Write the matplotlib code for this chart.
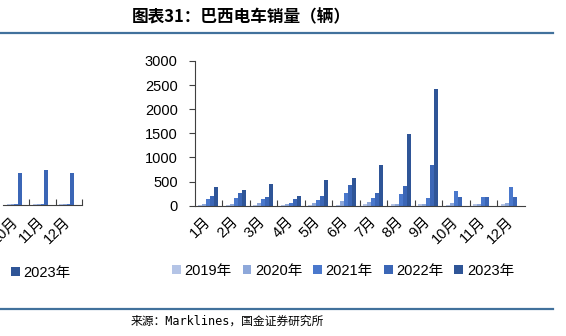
import numpy as np
import matplotlib
matplotlib.use("Agg")
import matplotlib.pyplot as plt
from matplotlib.lines import Line2D

plt.rcParams['font.family'] = ['Liberation Sans', 'Noto Sans CJK SC']

months = ['1月', '2月', '3月', '4月', '5月', '6月', '7月', '8月', '9月', '10月', '11月', '12月']
years = ['2019年', '2020年', '2021年', '2022年', '2023年']
colors = ['#b4c4e6', '#8ea8da', '#4a78cc', '#3b66b6', '#2f5597']

# 巴西电车销量（辆）
sales_2019 = [5, 5, 10, 10, 20, 10, 28, 25, 25, 10, 25, 28]
sales_2020 = [35, 35, 55, 28, 62, 104, 76, 25, 25, 55, 25, 55]
sales_2021 = [132, 153, 132, 62, 111, 257, 153, 235, 159, 304, 180, 380]
sales_2022 = [200, 257, 180, 132, 208, 437, 257, 408, 836, 180, 180, 180]
sales_2023 = [380, 333, 458, 208, 534, 583, 836, 1486, 2412, np.nan, np.nan, np.nan]

# neighbouring chart (only Oct-Dec visible at the left edge)
left_months = ['10月', '11月', '12月']
left_2019 = [20, 20, 20]
left_2020 = [25, 25, 25]
left_2021 = [30, 30, 30]
left_2022 = [670, 725, 670]
left_2023 = [np.nan, np.nan, np.nan]

W, H = 566, 336
fig = plt.figure(figsize=(W / 100, H / 100), dpi=100)


def px_box(x0, y_top, x1, y_bot):
    return [x0 / W, 1 - y_bot / H, (x1 - x0) / W, (y_bot - y_top) / H]


def style_axes(ax, labels, n):
    ax.set_xlim(-0.5, n - 0.5)
    ax.set_ylim(0, 3000)
    for s in ['top', 'right']:
        ax.spines[s].set_visible(False)
    ax.spines['bottom'].set_color('#404040')
    ax.spines['left'].set_color('#404040')
    ax.set_xticks(np.arange(n - 1) + 0.5)
    ax.set_xticklabels([])
    ax.tick_params(axis='x', which='major', direction='in', length=4, color='#404040')
    ax.set_xticks(np.arange(n), minor=True)
    ax.set_xticklabels(labels, minor=True, rotation=45, ha='right',
                       rotation_mode='anchor', va='center', fontsize=10.5)
    ax.tick_params(axis='x', which='minor', length=0, pad=10)
    ax.set_yticks(np.arange(0, 3001, 500))
    ax.tick_params(axis='y', direction='out', length=4, pad=8, labelsize=10.5,
                   color='#404040')


def draw_bars(ax, series):
    x = np.arange(len(series[0]))
    w = 0.145
    bars = []
    for k, vals in enumerate(series):
        bars.append(ax.bar(x + (k - 2) * w, vals, w, color=colors[k]))
    return bars


# main chart
ax = fig.add_axes(px_box(194.5, 61, 524.5, 205.7))
bars = draw_bars(ax, [sales_2019, sales_2020, sales_2021, sales_2022, sales_2023])
style_axes(ax, months, 12)
fig.legend(bars, years, ncol=5, loc='center', bbox_to_anchor=(343 / W, 1 - 271 / H),
           frameon=False, fontsize=10.5, handlelength=0.6, handleheight=0.6,
           handletextpad=0.25, columnspacing=0.75)

# partial neighbouring chart on the left edge
axl = fig.add_axes(px_box(81.7 - 3 * 26.2, 61, 81.7, 205.3))
lbars = draw_bars(axl, [left_2019, left_2020, left_2021, left_2022, left_2023])
style_axes(axl, left_months, 3)
axl.set_xlim(-0.5, 2.5)
axl.set_xticks([0.5, 1.5, 2.5])
axl.set_xticklabels([])
axl.spines['left'].set_visible(False)
axl.tick_params(axis='y', left=False, labelleft=False)
fig.legend(lbars, years, ncol=5, loc='center right', bbox_to_anchor=(84 / W, 1 - 273 / H),
           frameon=False, fontsize=10.5, handlelength=0.6, handleheight=0.6,
           handletextpad=0.25, columnspacing=0.75)

# title, rules and source
fig.text(132 / W, 1 - 17 / H, '图表31：巴西电车销量（辆）', fontsize=12, fontweight='bold',
         family=['Noto Sans CJK SC'], va='center', ha='left', style='italic')
fig.add_artist(Line2D([0, 553 / W], [1 - 32.5 / H] * 2, color='#41719c', lw=1.6))
fig.add_artist(Line2D([0, 553 / W], [1 - 308.5 / H] * 2, color='#41719c', lw=1.6))
fig.text(131 / W, 1 - 321 / H, '来源：Marklines，国金证券研究所', fontsize=8.5,
         family=['DejaVu Sans Mono', 'Noto Sans CJK SC'], va='center', ha='left')

fig.savefig('out.png', dpi=100)
